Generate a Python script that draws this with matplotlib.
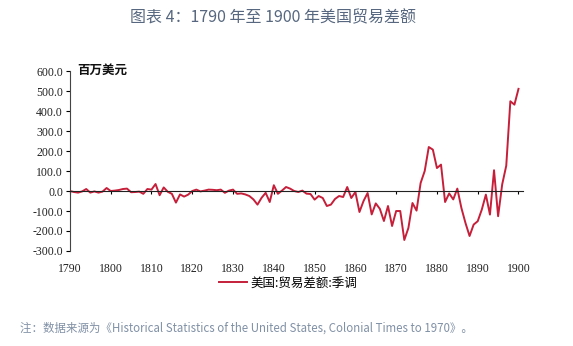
import matplotlib.pyplot as plt

plt.rcParams['font.family'] = ['Noto Sans CJK SC', 'DejaVu Sans']

years = list(range(1790, 1901))
balance = [
    0, -5, -8, -2, 10, -8, -2, -8, -3, 15,          # 1790s
    0, 2, 5, 10, 12, -6, -5, -3, -14, 10,            # 1800s
    7, 35, -21, 18, -4, -14, -58, -17, -28, -18,     # 1810s
    0, 7, -2, 2, 7, 6, 4, 7, -9, 2,                  # 1820s
    7, -14, -12, -17, -25, -42, -68, -34, -9, -55,   # 1830s
    29, -14, 2, 20, 12, 0, -5, 2, -13, -15,          # 1840s
    -43, -25, -35, -75, -68, -40, -25, -30, 20, -35, # 1850s
    -5, -105, -50, -10, -117, -62, -89, -150, -75, -175,  # 1860s
    -100, -100, -245, -185, -60, -98, 40, 100, 220, 207,  # 1870s
    115, 132, -55, -12, -42, 12, -85, -160, -225, -168,   # 1880s
    -151, -93, -18, -118, 104, -126, 33, 127, 449, 432,   # 1890s
    511,
]
yticks = [-300, -200, -100, 0, 100, 200, 300, 400, 500, 600]
xticks = list(range(1790, 1901, 10))

title = '图表 4：1790 年至 1900 年美国贸易差额'
unit = '百万美元'
series_name = '美国:贸易差额:季调'
note = '注：数据来源为《Historical Statistics of the United States, Colonial Times to 1970》。'

tick_font = ['Liberation Serif', 'DejaVu Serif']

fig = plt.figure(figsize=(5.73, 3.46), dpi=100)
ax = fig.add_axes([0.122, 0.2746, 0.790, 0.520])

line, = ax.plot(years, balance, color='#c51f3a', linewidth=1.4)

ax.set_xlim(1790, 1901)
ax.set_ylim(-300, 600)
ax.set_yticks(yticks)
ax.set_yticklabels([f'{v:.1f}' for v in yticks], fontsize=8.5,
                   family=tick_font, color='#222222')
ax.tick_params(axis='y', direction='out', length=3, width=0.8, pad=2)

# x axis drawn through zero, labels kept at the bottom
ax.spines['top'].set_visible(False)
ax.spines['right'].set_visible(False)
ax.spines['bottom'].set_position(('data', 0))
ax.spines['bottom'].set_color('#222222')
ax.spines['left'].set_color('#444444')
ax.set_xticks(xticks)
ax.tick_params(axis='x', direction='out', length=2.5, width=0.8, labelbottom=False)

sec = ax.secondary_xaxis('bottom')
sec.set_xticks(xticks)
sec.set_xticklabels([str(y) for y in xticks], fontsize=8.5,
                    family=tick_font, color='#222222')
sec.tick_params(length=0, pad=9)
sec.spines['bottom'].set_visible(False)

fig.text(0.134, 0.798, unit, fontsize=9, fontweight='bold',
         va='center', ha='left', color='#111111')

fig.text(0.477, 0.95, title, ha='center', va='center', fontsize=11.5,
         color='#56677f')

fig.legend([line], [series_name], loc='center', bbox_to_anchor=(0.503, 0.182),
           frameon=False, fontsize=9, handlelength=2.2, handletextpad=0.3)

fig.text(0.035, 0.053, note, ha='left', va='center', fontsize=8.25,
         color='#8090a5')

fig.savefig('out.png', dpi=100)
